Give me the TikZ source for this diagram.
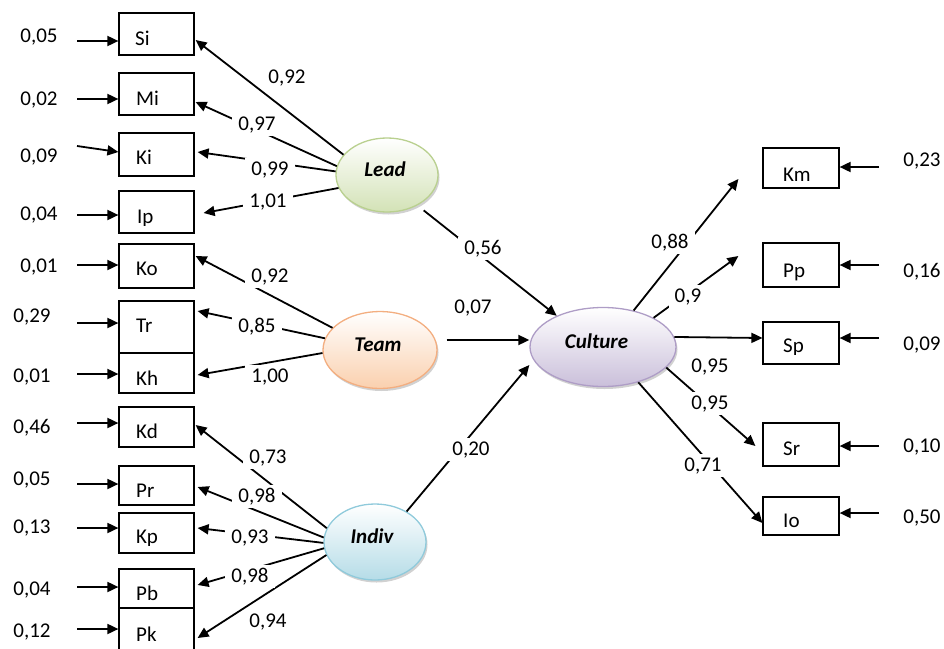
\documentclass[tikz,border=0pt]{standalone}
\usepackage{fontspec}
\setmainfont{Carlito}
\usetikzlibrary{arrows.meta,shapes.geometric,shadows,calc}
\definecolor{leadF}{HTML}{D3E2B6}
\definecolor{leadB}{HTML}{B9D08F}
\definecolor{teamF}{HTML}{FAD0AE}
\definecolor{teamB}{HTML}{F3AE80}
\definecolor{cultF}{HTML}{CABFDA}
\definecolor{cultB}{HTML}{AE9DC6}
\definecolor{indF}{HTML}{B5DCE7}
\definecolor{indB}{HTML}{8FCADB}
\begin{document}
\begin{tikzpicture}[x=1pt,y=-1pt,
  every node/.style={font=\fontsize{21}{25}\selectfont},
  arr/.style={line width=1.8pt,-{Triangle[length=11pt,width=10pt]}},
  box/.style={draw,line width=1.2pt,minimum width=75pt,inner sep=0pt},
  btxt/.style={anchor=base west,inner sep=0pt},
  num/.style={anchor=base,inner sep=0pt},
  lab/.style={anchor=base,fill=white,inner xsep=6pt,inner ysep=3pt},
  lat/.style={ellipse,line width=1.3pt,inner sep=0pt,shading=axis,top color=white,
    drop shadow={shadow xshift=1.5pt,shadow yshift=-2.5pt,opacity=0.3,fill=black!60}},
  ltxt/.style={anchor=base,inner sep=0pt,font=\fontsize{21}{25}\selectfont\bfseries\itshape}]
\useasboundingbox (0,0) rectangle (944,648);

% ---------- left indicator boxes ----------
\node[box,minimum height=42pt] (si) at (156.5,34) {};
\node[box,minimum height=42pt] (mi) at (156.5,94) {};
\node[box,minimum height=43pt] (ki) at (156.5,154.5) {};
\node[box,minimum height=42pt] (ip) at (156.5,212) {};
\node[box,minimum height=44pt] (ko) at (156.5,266) {};
\node[box,minimum height=52pt] (tr) at (156.5,327) {};
\node[box,minimum height=40pt] (kh) at (156.5,373) {};
\node[box,minimum height=40pt] (kd) at (156.5,427) {};
\node[box,minimum height=39pt] (pr) at (156.5,485.5) {};
\node[box,minimum height=40pt] (kp) at (156.5,533) {};
\node[box,minimum height=39pt] (pb) at (156.5,588.5) {};
\node[box,minimum height=52pt] (pk) at (156.5,634) {};

\node[btxt] (si-t) at (135,45) {Si};
\node[btxt] (mi-t) at (136,105) {Mi};
\node[btxt] (ki-t) at (136,164) {Ki};
\begin{scope}\clip (119,191) rectangle (194,225);
\node[btxt] (ip-t) at (137,223) {Ip};\end{scope}
\node[btxt] (ko-t) at (136,275) {Ko};
\node[btxt] (tr-t) at (136,332) {Tr};
\node[btxt] (kh-t) at (136,385) {Kh};
\node[btxt] (kd-t) at (136,438) {Kd};
\node[btxt] (pr-t) at (136,497) {Pr};
\begin{scope}\clip (119,513) rectangle (194,545);
\node[btxt] (kp-t) at (136,543) {Kp};\end{scope}
\node[btxt] (pb-t) at (136,600) {Pb};
\node[btxt] (pk-t) at (136,641) {Pk};

% ---------- right indicator boxes ----------
\node[box,minimum width=76pt,minimum height=40pt] (km) at (801,168) {};
\node[box,minimum width=76pt,minimum height=44pt] (pp) at (801,265) {};
\node[box,minimum width=76pt,minimum height=42pt] (sp) at (801,343) {};
\node[box,minimum width=76pt,minimum height=43pt] (sr) at (801,444.5) {};
\node[box,minimum width=76pt,minimum height=38pt] (io) at (801,516) {};

\node[btxt] (km-t) at (783,181) {Km};
\node[btxt] (pp-t) at (783,277) {Pp};
\begin{scope}\clip (763,322) rectangle (839,354);
\node[btxt] (sp-t) at (783,352) {Sp};\end{scope}
\node[btxt] (sr-t) at (783,455) {Sr};
\begin{scope}\clip (763,497) rectangle (839,528.5);
\node[btxt] (io-t) at (783,527) {Io};\end{scope}

% ---------- latent variables ----------
\node[lat,draw=leadB,bottom color=leadF,minimum width=102pt,minimum height=74pt] (lead) at (387,175) {};
\node[lat,draw=teamB,bottom color=teamF,minimum width=114pt,minimum height=77pt] (team) at (380,350) {};
\node[lat,draw=cultB,bottom color=cultF,minimum width=146pt,minimum height=79pt] (culture) at (603,347) {};
\node[lat,draw=indB,bottom color=indF,minimum width=102pt,minimum height=76pt] (indiv) at (375,542) {};
\node[ltxt] (lead-t) at (385,176) {Lead};
\node[ltxt] (team-t) at (378,351) {Team};
\node[ltxt] (culture-t) at (596.5,348) {Culture};
\node[ltxt] (indiv-t) at (372,543) {Indiv};

% ---------- left error terms ----------
\foreach \n/\y in {si/41,mi/99,ip/215,ko/265,tr/323,kh/374,kd/423,pr/484,kp/528,pb/587,pk/629}{
  \coordinate (\n-r) at (77,\y);
  \draw[arr] (\n-r) -- (\n.west |- \n-r);
}
\coordinate (ki-r) at (77,146);
\draw[arr] (ki-r) -- ($(ki.west)+(0,-2.5)$);

\node[num] (e-si) at (39,42) {0,05};
\node[num] (e-mi) at (39,105) {0,02};
\node[num] (e-ki) at (39,162) {0,09};
\node[num] (e-ip) at (39,220) {0,04};
\node[num] (e-ko) at (39,272) {0,01};
\node[num] (e-tr) at (32,322) {0,29};
\node[num] (e-kh) at (32,382) {0,01};
\node[num] (e-kd) at (32,433) {0,46};
\node[num] (e-pr) at (32,485) {0,05};
\node[num] (e-kp) at (32,533) {0,13};
\node[num] (e-pb) at (32,595) {0,04};
\node[num] (e-pk) at (32,637) {0,12};

% ---------- right error terms ----------
\foreach \n/\y in {km/167,pp/265,sp/338,sr/446,io/513}{
  \coordinate (\n-r) at (879,\y);
  \draw[arr] (\n-r) -- (\n.east |- \n-r);
}
\node[num] (e-km) at (922,166) {0,23};
\node[num] (e-pp) at (922,277) {0,16};
\node[num] (e-sp) at (922,350) {0,09};
\node[num] (e-sr) at (922,452) {0,10};
\node[num] (e-io) at (922,523) {0,50};

% ---------- loadings: Lead ----------
\draw[arr] (lead.155) -- ($(si.east)+(1,6)$);
\draw[arr] (lead.170) -- ($(mi.east)+(1,8)$);
\draw[arr] (lead.176) -- ($(ki.east)+(3,-2.5)$);
\draw[arr] (lead.195) -- ($(ip.east)+(9,1)$);
% ---------- loadings: Team ----------
\draw[arr] (team.155) -- ($(ko.east)+(1,-10)$);
\draw[arr] (team.168) -- ($(tr.east)+(3,-16)$);
\draw[arr] (team.183) -- ($(kh.east)+(3,2)$);
% ---------- loadings: Indiv ----------
\draw[arr] (indiv.164) -- ($(kd.east)+(1,-2)$);
\draw[arr] (indiv.175) -- ($(pr.east)+(3,1.5)$);
\draw[arr] (indiv.181) -- ($(kp.east)+(3,-5)$);
\draw[arr] (indiv.187) -- ($(pb.east)+(3,-3.5)$);
\draw[arr] (indiv.195) -- ($(pk.east)+(3,4)$);
% ---------- structural paths ----------
\draw[arr,shorten <=8pt] (lead.-45) -- (culture.146);
\draw[arr] ($(team.east)+(9,-10)$) -- ($(culture.west)+(0,-7)$);
\draw[arr] (indiv.44) -- ($(culture.west)+(0,18)$);
% ---------- loadings: Culture ----------
\draw[arr] (culture.50) -- ($(km.west)+(-24,11)$);
\draw[arr] (culture.30) -- ($(pp.west)+(-24,-9)$);
\draw[arr] (culture.8) -- ($(sp.west)+(0,-5)$);
\draw[arr] (culture.-18) -- ($(sr.west)+(-7,1.5)$);
\draw[arr] (culture.-45) -- ($(io.west)+(0,7)$);

% ---------- coefficient labels ----------
\node[lab] (c-si) at (287,83) {0,92};
\node[lab] (c-mi) at (257,130) {0,97};
\node[lab] (c-ki) at (270,175) {0,99};
\node[lab] (c-ip) at (268,207) {1,01};
\node[lab] (c-ko) at (270,282) {0,92};
\node[lab] (c-tr) at (257,332) {0,85};
\node[lab] (c-kh) at (270,382) {1,00};
\node[lab] (c-kd) at (268,463) {0,73};
\node[lab] (c-pr) at (257,502) {0,98};
\node[lab] (c-kp) at (250,543) {0,93};
\node[lab] (c-pb) at (250,582) {0,98};
\node[lab] (c-pk) at (268,627) {0,94};
\node[lab] (c-lc) at (483,254) {0,56};
\node[lab] (c-tc) at (473,313) {0,07};
\node[lab] (c-ic) at (471,455) {0,20};
\node[lab] (c-km) at (670,248) {0,88};
\node[lab] (c-pp) at (688,302) {0,9};
\node[lab] (c-sp) at (710,372) {0,95};
\node[lab] (c-sr) at (710,409) {0,95};
\node[lab] (c-io) at (703,471) {0,71};
\end{tikzpicture}
\end{document}
